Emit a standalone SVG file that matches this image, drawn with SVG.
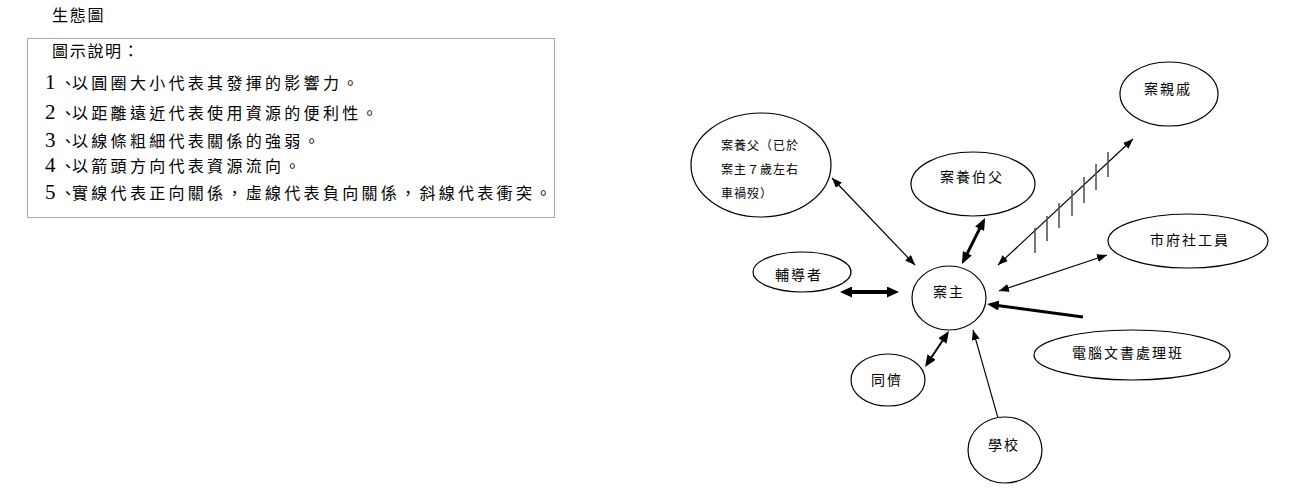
<svg xmlns="http://www.w3.org/2000/svg" width="1311" height="503" viewBox="0 0 1311 503">
<style>
.t{font-family:"Noto Sans CJK TC","Liberation Serif",sans-serif;fill:#000}
.lg{font-size:16px;letter-spacing:3.3px}
.num{font-family:"Liberation Serif","Noto Sans CJK TC",serif;font-size:21px;letter-spacing:0}
.dn{letter-spacing:-4.8px}
.n{font-size:14px;letter-spacing:2px}
.s{font-size:12px;letter-spacing:1px}
.e{fill:#fff;stroke:#000;stroke-width:1.2}
.c{fill:none;stroke:#000}
.tk{stroke:#555;stroke-width:1.6}
</style>
<defs>
<marker id="a1" markerUnits="userSpaceOnUse" markerWidth="10" markerHeight="8" refX="10" refY="4" orient="auto-start-reverse"><path d="M0,0L10,4L0,8z" fill="#000"/></marker>
<marker id="a2" markerUnits="userSpaceOnUse" markerWidth="12" markerHeight="10" refX="9" refY="5" orient="auto-start-reverse"><path d="M0,0L12,5L0,10z" fill="#000"/></marker>
<marker id="a3" markerUnits="userSpaceOnUse" markerWidth="12" markerHeight="11" refX="8" refY="5.5" orient="auto-start-reverse"><path d="M0,0L12,5.5L0,11z" fill="#000"/></marker>
</defs>
<rect width="1311" height="503" fill="#fff"/>
<g id="legend">
<text class="t" x="52" y="21" style="font-size:16px;letter-spacing:1.7px">生態圖</text>
<rect x="27.5" y="38.5" width="527" height="179" fill="none" stroke="#aaa" stroke-width="1"/>
<text class="t" x="52" y="57" style="font-size:16px;letter-spacing:1.7px">圖示說明：</text>
<text class="t lg" x="45" y="89"><tspan class="num">1</tspan><tspan class="dn" x="60">、</tspan><tspan x="72">以圓圈大小代表其發揮的影響力。</tspan></text>
<text class="t lg" x="45" y="119"><tspan class="num">2</tspan><tspan class="dn" x="60">、</tspan><tspan x="72">以距離遠近代表使用資源的便利性。</tspan></text>
<text class="t lg" x="45" y="147"><tspan class="num">3</tspan><tspan class="dn" x="60">、</tspan><tspan x="72">以線條粗細代表關係的強弱。</tspan></text>
<text class="t lg" x="45" y="172"><tspan class="num">4</tspan><tspan class="dn" x="60">、</tspan><tspan x="72">以箭頭方向代表資源流向。</tspan></text>
<text class="t lg" x="45" y="199"><tspan class="num">5</tspan><tspan class="dn" x="60">、</tspan><tspan x="72">實線代表正向關係，虛線代表負向關係，斜線代表衝突。</tspan></text>
</g>
<g id="connectors">
<line class="c" x1="915" y1="265" x2="832" y2="178" stroke-width="1.2" marker-start="url(#a1)" marker-end="url(#a1)"/>
<line class="c" x1="963.3" y1="261.3" x2="983.7" y2="220.7" stroke-width="3" marker-start="url(#a2)" marker-end="url(#a2)"/>
<line class="c" x1="998" y1="265" x2="1133" y2="139" stroke-width="1.2" marker-start="url(#a1)" marker-end="url(#a1)"/>
<g id="conflict-ticks">
<line class="tk" x1="1035" y1="228" x2="1035" y2="253"/>
<line class="tk" x1="1047" y1="216" x2="1047" y2="241"/>
<line class="tk" x1="1059" y1="203" x2="1059" y2="228"/>
<line class="tk" x1="1072" y1="190" x2="1072" y2="216"/>
<line class="tk" x1="1084" y1="177" x2="1084" y2="203"/>
<line class="tk" x1="1096" y1="164" x2="1096" y2="190"/>
<line class="tk" x1="1108" y1="152" x2="1108" y2="177"/>
</g>
<line class="c" x1="999" y1="291" x2="1107" y2="255" stroke-width="1.2" marker-start="url(#a1)" marker-end="url(#a1)"/>
<line class="c" x1="1083" y1="317" x2="990" y2="304.4" stroke-width="3" marker-end="url(#a2)"/>
<line class="c" x1="998" y1="418" x2="973" y2="330" stroke-width="1.1" marker-end="url(#a1)"/>
<line class="c" x1="926.7" y1="364.5" x2="947.3" y2="333.5" stroke-width="2" marker-start="url(#a2)" marker-end="url(#a2)"/>
<line class="c" x1="844" y1="292" x2="895" y2="292" stroke-width="4" marker-start="url(#a3)" marker-end="url(#a3)"/>
</g>
<g id="node-adoptive-father">
<ellipse class="e" cx="761" cy="165" rx="70" ry="52"/>
<text class="t s" x="721" y="150">案養父（已於</text>
<text class="t s" x="721" y="174">案主７歲左右</text>
<text class="t s" x="721" y="198">車禍歿）</text>
</g>
<g id="node-uncle">
<ellipse class="e" cx="973" cy="184" rx="62" ry="32"/>
<text class="t n" x="940" y="182">案養伯父</text>
</g>
<g id="node-relatives">
<ellipse class="e" cx="1169" cy="94" rx="49" ry="32"/>
<text class="t n" x="1144" y="94">案親戚</text>
</g>
<g id="node-social-worker">
<ellipse class="e" cx="1188" cy="241" rx="80" ry="27"/>
<text class="t n" x="1150" y="245">市府社工員</text>
</g>
<g id="node-client">
<ellipse class="e" cx="949" cy="298" rx="37" ry="32"/>
<text class="t n" x="933" y="297">案主</text>
</g>
<g id="node-counselor">
<ellipse class="e" cx="802" cy="272" rx="49" ry="20"/>
<text class="t n" x="775" y="280">輔導者</text>
</g>
<g id="node-computer-class">
<ellipse class="e" cx="1132" cy="355" rx="98" ry="25"/>
<text class="t n" x="1072" y="358">電腦文書處理班</text>
</g>
<g id="node-school">
<ellipse class="e" cx="1005" cy="450" rx="37" ry="33"/>
<text class="t n" x="988" y="450">學校</text>
</g>
<g id="node-peers">
<ellipse class="e" cx="888" cy="380" rx="37" ry="26"/>
<text class="t n" x="871" y="385">同儕</text>
</g>
</svg>
